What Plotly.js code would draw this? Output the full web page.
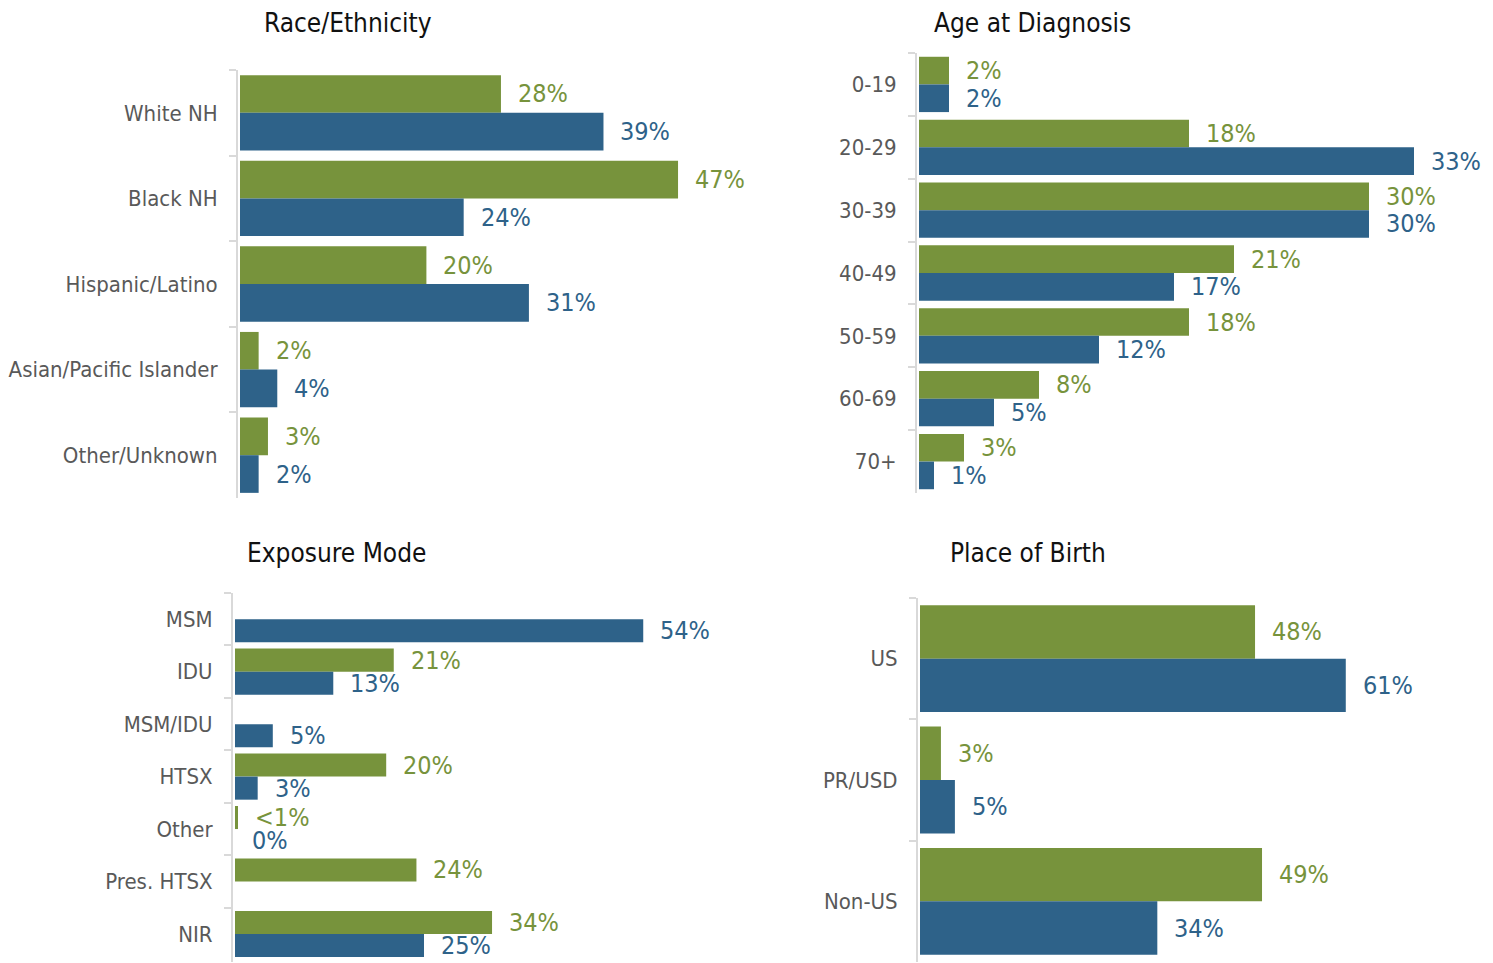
<!DOCTYPE html>
<html>
<head>
<meta charset="utf-8">
<script src="https://cdn.plot.ly/plotly-3.0.1.min.js"></script>
<style>
html,body{margin:0;padding:0;background:#fff;}
#chart{width:1493px;height:963px;}
</style>
</head>
<body>
<div id="chart"></div>
<script>
// ---------- data ----------
const seriesNames = ['Female', 'Male'];

const raceCats = ['White NH', 'Black NH', 'Hispanic/Latino', 'Asian/Pacific Islander', 'Other/Unknown'];
const raceFemale = [28, 47, 20, 2, 3];
const raceMale = [39, 24, 31, 4, 2];
const raceFemaleLabels = ['28%', '47%', '20%', '2%', '3%'];
const raceMaleLabels = ['39%', '24%', '31%', '4%', '2%'];

const ageCats = ['0-19', '20-29', '30-39', '40-49', '50-59', '60-69', '70+'];
const ageFemale = [2, 18, 30, 21, 18, 8, 3];
const ageMale = [2, 33, 30, 17, 12, 5, 1];
const ageFemaleLabels = ['2%', '18%', '30%', '21%', '18%', '8%', '3%'];
const ageMaleLabels = ['2%', '33%', '30%', '17%', '12%', '5%', '1%'];

const expCats = ['MSM', 'IDU', 'MSM/IDU', 'HTSX', 'Other', 'Pres. HTSX', 'NIR'];
const expFemale = [null, 21, null, 20, 0.4, 24, 34];
const expMale = [54, 13, 5, 3, 0, null, 25];
const expFemaleLabels = [null, '21%', null, '20%', '<1%', '24%', '34%'];
const expMaleLabels = ['54%', '13%', '5%', '3%', '0%', null, '25%'];

const birthCats = ['US', 'PR/USD', 'Non-US'];
const birthFemale = [48, 3, 49];
const birthMale = [61, 5, 34];
const birthFemaleLabels = ['48%', '3%', '49%'];
const birthMaleLabels = ['61%', '5%', '34%'];

const titles = ['Race/Ethnicity', 'Age at Diagnosis', 'Exposure Mode', 'Place of Birth'];

// ---------- style ----------
const W = 1493, H = 963;
const GREEN = '#77933C', BLUE = '#2E6289';
const FONT = "'Liberation Sans Narrow', 'Arial Narrow', 'DejaVu Sans Condensed', sans-serif";
const BARGAP = 0.12;

const panels = [
  {cats: raceCats, f: raceFemale, m: raceMale, fl: raceFemaleLabels, ml: raceMaleLabels,
   left: 240, scale: 9.32, top: 70, bottom: 498, xmax: 55, title: titles[0], tx: 348, ty: 23},
  {cats: ageCats, f: ageFemale, m: ageMale, fl: ageFemaleLabels, ml: ageMaleLabels,
   left: 919, scale: 15.0, top: 53, bottom: 493, xmax: 38, title: titles[1], tx: 1032, ty: 23},
  {cats: expCats, f: expFemale, m: expMale, fl: expFemaleLabels, ml: expMaleLabels,
   left: 235, scale: 7.56, top: 593, bottom: 962, xmax: 66, title: titles[2], tx: 336, ty: 553},
  {cats: birthCats, f: birthFemale, m: birthMale, fl: birthFemaleLabels, ml: birthMaleLabels,
   left: 920, scale: 6.98, top: 598, bottom: 962, xmax: 80, title: titles[3], tx: 1028, ty: 553}
];

const data = [];
const layout = {
  width: W, height: H,
  margin: {l: 0, r: 0, t: 0, b: 0},
  paper_bgcolor: '#fff', plot_bgcolor: '#fff',
  showlegend: false,
  barmode: 'group',
  bargap: BARGAP,
  bargroupgap: 0,
  font: {family: FONT, color: '#595959'},
  annotations: []
};

const off = (1 - BARGAP) / 4;

panels.forEach((p, k) => {
  const n = k + 1;
  const xa = 'x' + (n === 1 ? '' : n), ya = 'y' + (n === 1 ? '' : n);
  const xKey = 'xaxis' + (n === 1 ? '' : n), yKey = 'yaxis' + (n === 1 ? '' : n);
  const pad = 2;
  data.push({type: 'bar', orientation: 'h', name: seriesNames[0], y: p.cats, x: p.f,
    xaxis: xa, yaxis: ya, marker: {color: GREEN}, hoverinfo: 'skip'});
  data.push({type: 'bar', orientation: 'h', name: seriesNames[1], y: p.cats, x: p.m,
    xaxis: xa, yaxis: ya, marker: {color: BLUE}, hoverinfo: 'skip'});
  const x0 = p.left - pad;
  const x1 = p.left + p.xmax * p.scale;
  layout[xKey] = {domain: [x0 / W, Math.min(x1 / W, 1)], range: [-pad / p.scale, p.xmax],
    visible: false, fixedrange: true, anchor: ya};
  layout[yKey] = {domain: [1 - p.bottom / H, 1 - p.top / H], type: 'category',
    autorange: 'reversed', anchor: xa,
    showline: true, linecolor: '#d9d9d9', linewidth: 2,
    ticks: 'outside', tickson: 'boundaries', ticklen: 7, tickcolor: '#d9d9d9', tickwidth: 2,
    showgrid: false, zeroline: false, ticklabelstandoff: 14,
    tickfont: {family: FONT, size: 22, color: '#595959'}, fixedrange: true};
  // value labels
  p.cats.forEach((c, i) => {
    if (p.fl[i] !== null) layout.annotations.push({xref: xa, yref: ya, x: p.f[i], y: i - off,
      text: p.fl[i], showarrow: false, xanchor: 'left', yanchor: 'middle', xshift: 15,
      font: {family: FONT, size: 25, color: GREEN}});
    if (p.ml[i] !== null) layout.annotations.push({xref: xa, yref: ya, x: p.m[i], y: i + off,
      text: p.ml[i], showarrow: false, xanchor: 'left', yanchor: 'middle', xshift: 15,
      font: {family: FONT, size: 25, color: BLUE}});
  });
  layout.annotations.push({xref: 'paper', yref: 'paper', x: p.tx / W, y: 1 - p.ty / H,
    text: p.title, showarrow: false, xanchor: 'center', yanchor: 'middle',
    font: {family: FONT, size: 26, color: '#111'}});
});

Plotly.newPlot('chart', data, layout, {displayModeBar: false, staticPlot: true});
</script>
</body>
</html>
